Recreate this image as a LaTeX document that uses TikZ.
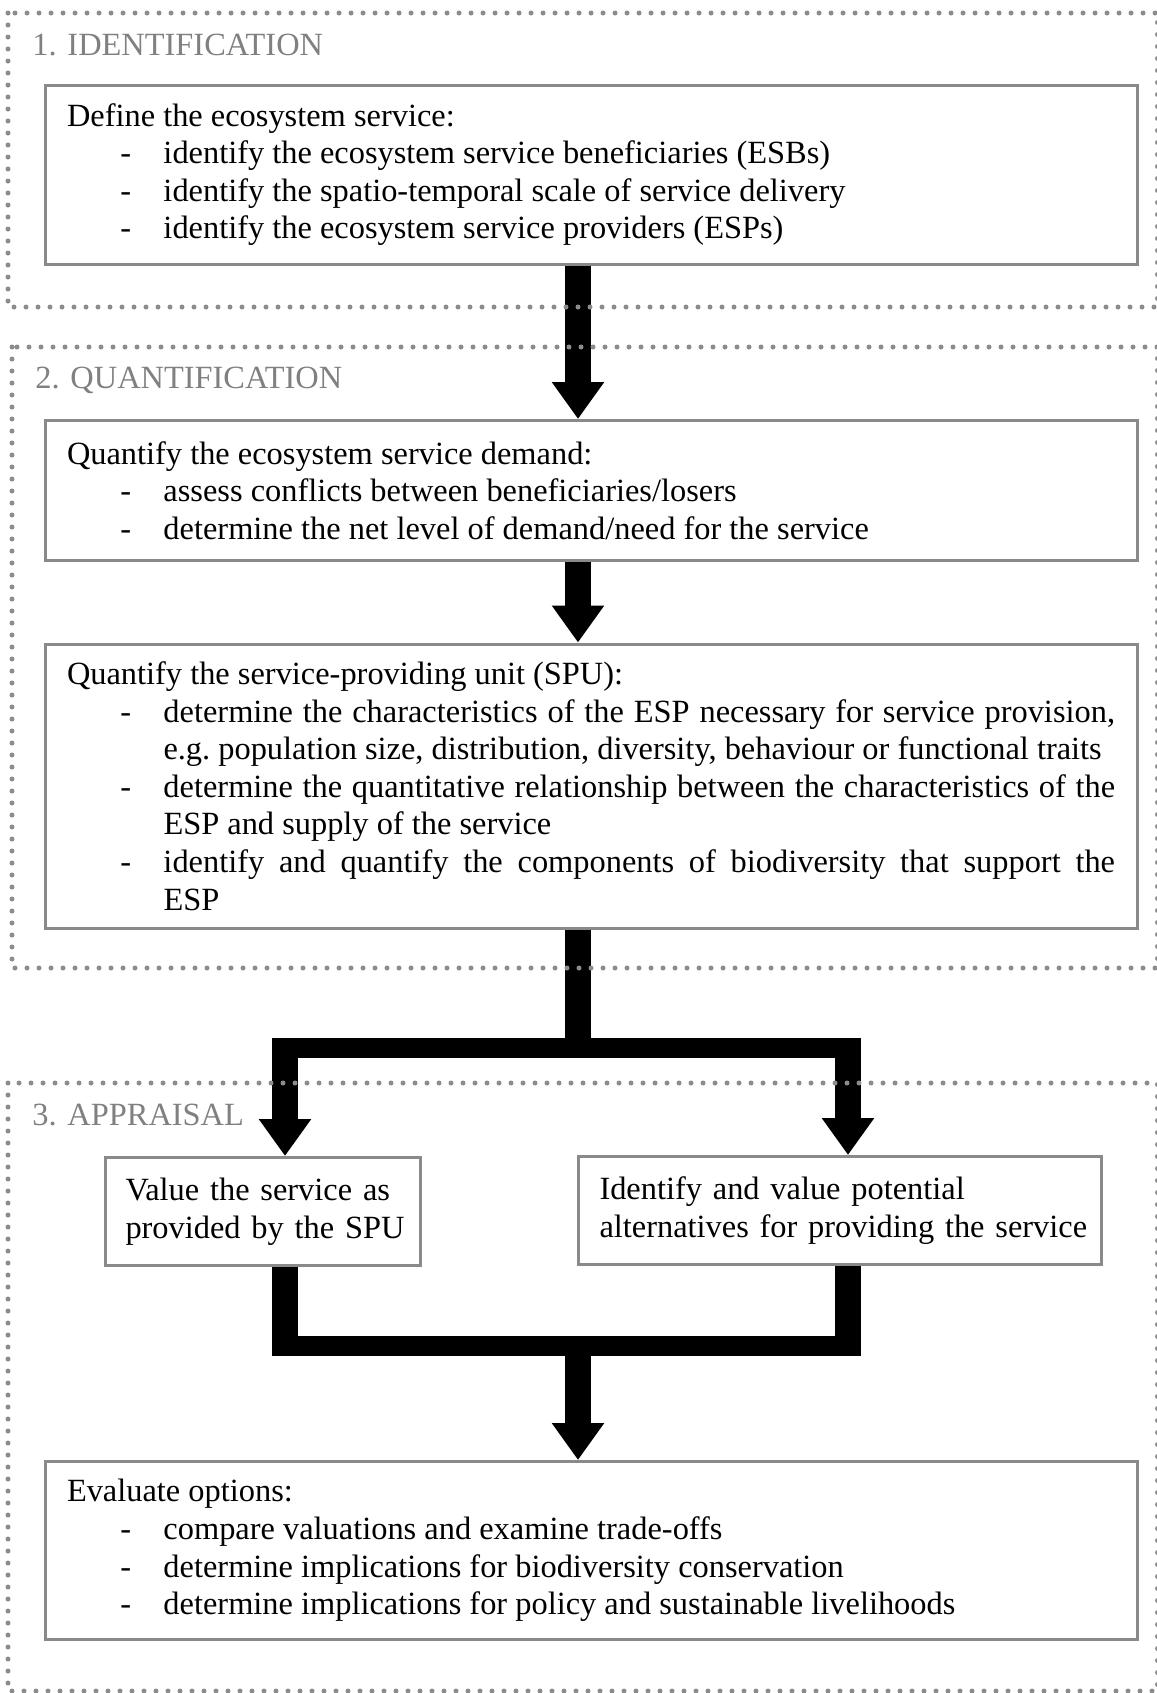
\documentclass[tikz,border=0pt]{standalone}
\usepackage{fontspec}
\setmainfont{Liberation Serif}
\usetikzlibrary{arrows.meta,calc}
\definecolor{boxgray}{HTML}{8A8A8A}
\definecolor{framegray}{HTML}{8C8C8C}
\definecolor{labelgray}{HTML}{808080}

% one indented "- item" line of a box
\newcommand\dashline[1]{\par\noindent\hangindent=48.25pt\hangafter=1\makebox[48.25pt][l]{\hspace{26.75pt}-}#1\par}

\tikzset{
  stagebox/.style={draw=boxgray, line width=1.5pt, anchor=north west, inner ysep=4pt,
    font=\fontsize{16.2}{18.8}\selectfont},
  widebox/.style={stagebox, inner xsep=11pt, text width=524pt, align=justify},
  smallbox/.style={stagebox, align=left},
  phaselabel/.style={anchor=base west, inner sep=0pt, text=labelgray,
    font=\fontsize{16.2}{18.8}\selectfont},
  phaseframe/.style={draw=framegray, line width=2.5pt, line cap=round, dash pattern=on 0pt off 6pt},
  bigarrow/.style={line width=13pt, -{Triangle[width=25pt,length=18.5pt]}},
  stem/.style={line width=13pt},
  bar/.style={line width=10pt}
}

\begin{document}
\begin{tikzpicture}[x=0.5pt,y=-0.5pt]
  \useasboundingbox (0,0) rectangle (1157,1693);

  % boxes
  \node[widebox, minimum height=89.5pt] (ident) at (43.5,83.5) {Define the ecosystem service:
    \dashline{identify the ecosystem service beneficiaries (ESBs)}
    \dashline{identify the spatio-temporal scale of service delivery}
    \dashline{identify the ecosystem service providers (ESPs)}};
  \node[widebox, minimum height=70pt] (demand) at (43.5,419) {Quantify the ecosystem service demand:
    \dashline{assess conflicts between beneficiaries/losers}
    \dashline{determine the net level of demand/need for the service}};
  \node[widebox, minimum height=142pt] (spu) at (43.5,642.5) {Quantify the service-providing unit (SPU):
    \dashline{determine the characteristics of the ESP necessary for service provision, e.g.~population size, distribution, diversity, behaviour or functional traits}
    \dashline{determine the quantitative relationship between the characteristics of the ESP and supply of the service}
    \dashline{identify and quantify the components of biodiversity that support the\linebreak ESP}};
  \node[smallbox, inner xsep=10pt, text width=137.5pt, minimum height=54pt] (value) at (104,1156)
    {\mbox{Value the service as}\\\mbox{provided by the SPU}};
  \node[smallbox, inner xsep=10.75pt, text width=240pt, minimum height=54pt] (alter) at (576.5,1155)
    {\mbox{Identify and value potential}\\\mbox{alternatives for providing the service}};
  \node[widebox, minimum height=89pt] (options) at (43.5,1460) {Evaluate options:
    \dashline{compare valuations and examine trade-offs}
    \dashline{determine implications for biodiversity conservation}
    \dashline{determine implications for policy and sustainable livelihoods}};

  % connectors
  \coordinate (spine) at (578,0);
  \coordinate (lspine) at (285,0);
  \coordinate (rspine) at (848,0);
  \coordinate (splitbar) at (0,1048);
  \coordinate (joinbar) at (0,1345.5);

  \draw[bigarrow] (ident.south -| spine) -- (demand.north -| spine);
  \draw[bigarrow] (demand.south -| spine) -- (spu.north -| spine);
  \draw[stem] (spu.south -| spine) -- (spine |- splitbar);
  \draw[bar] ($(lspine |- splitbar)+(-13,0)$) -- ($(rspine |- splitbar)+(13,0)$);
  \draw[bigarrow] (lspine |- splitbar) -- (value.north -| lspine);
  \draw[bigarrow] (rspine |- splitbar) -- (alter.north -| rspine);
  \draw[stem] (value.south -| lspine) -- (lspine |- joinbar);
  \draw[stem] (alter.south -| rspine) -- (rspine |- joinbar);
  \draw[bar] ($(lspine |- joinbar)+(-13,0)$) -- ($(rspine |- joinbar)+(13,0)$);
  \draw[bigarrow] (spine |- joinbar) -- (options.north -| spine);

  % phases
  \draw[phaseframe] (8,13) rectangle (1157.5,307);
  \draw[phaseframe] (12,347) rectangle (1157.5,968);
  \draw[phaseframe] (8,1083) rectangle (1157.5,1691);
  \node[phaselabel] (identlabel) at (32,55) {1. IDENTIFICATION};
  \node[phaselabel] (quantlabel) at (35,388) {2. QUANTIFICATION};
  \node[phaselabel] (appraisallabel) at (32,1125) {3. APPRAISAL};
\end{tikzpicture}
\end{document}
